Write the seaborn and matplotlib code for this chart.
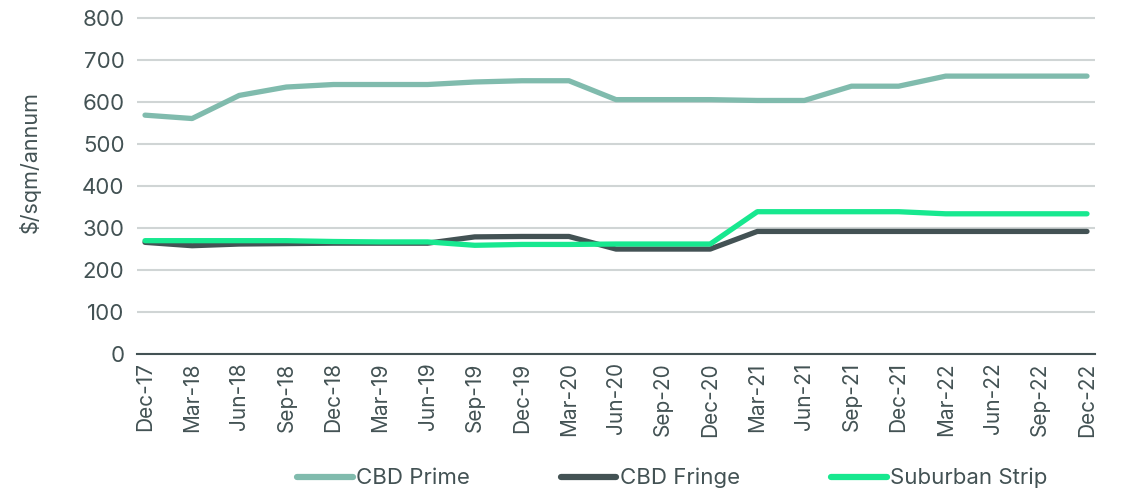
import matplotlib
matplotlib.use("Agg")
import matplotlib.pyplot as plt
import seaborn as sns
import pandas as pd
from matplotlib.lines import Line2D

quarters = ["Dec-17", "Mar-18", "Jun-18", "Sep-18", "Dec-18", "Mar-19", "Jun-19",
            "Sep-19", "Dec-19", "Mar-20", "Jun-20", "Sep-20", "Dec-20", "Mar-21",
            "Jun-21", "Sep-21", "Dec-21", "Mar-22", "Jun-22", "Sep-22", "Dec-22"]
cbd_prime = [569, 561, 616, 636, 642, 642, 642, 648, 651, 651, 606, 606, 606, 604,
             604, 638, 638, 662, 662, 662, 662]
cbd_fringe = [266, 258, 262, 263, 264, 264, 264, 279, 280, 280, 250, 250, 250, 292,
              292, 292, 292, 292, 292, 292, 292]
suburban = [270, 270, 270, 270, 268, 267, 267, 259, 261, 261, 262, 262, 262, 339,
            339, 339, 339, 334, 334, 334, 334]

series_names = ["CBD Prime", "CBD Fringe", "Suburban Strip"]
colors = ["#80BBAD", "#435254", "#17E88F"]

df = pd.DataFrame({"Quarter": quarters, "CBD Prime": cbd_prime,
                   "CBD Fringe": cbd_fringe, "Suburban Strip": suburban})
long = df.melt(id_vars="Quarter", var_name="Series", value_name="Value")
long["x"] = long["Quarter"].map({q: i for i, q in enumerate(quarters)})

sns.set_theme(style="white")
plt.rcParams["font.family"] = ["Inter", "DejaVu Sans"]
text_c = "#435254"

fig = plt.figure(figsize=(11.24, 4.91), dpi=100)
ax = fig.add_axes([137/1124, 1 - 354/491, (1095-137)/1124, (354-14)/491])

sns.lineplot(data=long, x="x", y="Value", hue="Series", hue_order=series_names,
             palette=colors, linewidth=3.8, ax=ax, legend=False, sort=False,
             solid_capstyle="round")

ax.set_xlim(-0.17, 20.17)
ax.set_ylim(0, 810)
ax.set_yticks(range(0, 801, 100))
ax.set_xticks(range(len(quarters)))
ax.set_xticklabels(quarters, rotation=90, fontsize=15, color=text_c)
ax.tick_params(axis="y", labelsize=16, colors=text_c, length=0, pad=9)
ax.tick_params(axis="x", length=0, pad=6, colors=text_c)
ax.grid(axis="y", color="#D0D5D5", linewidth=1.5)
ax.set_axisbelow(True)
for s in ["top", "right", "left"]:
    ax.spines[s].set_visible(False)
ax.spines["bottom"].set_color(text_c)
ax.spines["bottom"].set_linewidth(1.5)
ax.set_xlabel("")
ax.set_ylabel("$/sqm/annum", fontsize=15.5, color=text_c)
ax.yaxis.set_label_coords(-0.1, 0.565)

handles = [Line2D([0], [0], color=c, linewidth=4.5) for c in colors]
fig.legend(handles, series_names, loc="center", bbox_to_anchor=(0.598, 0.026),
           ncol=3, frameon=False, fontsize=16, handlelength=2.5, handletextpad=0.15,
           columnspacing=4.1, labelcolor=text_c)

fig.savefig("out.png", dpi=100)
